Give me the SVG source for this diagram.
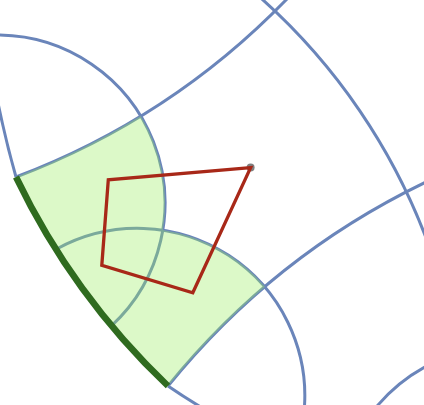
<svg xmlns="http://www.w3.org/2000/svg" width="424" height="405" viewBox="0 0 424 405">
<style>
.b{fill:none;stroke:#6a85ba;stroke-width:3}
.region{fill:#9bee62;fill-opacity:0.35;stroke:none}
.edge{fill:none;stroke:#2f6b1f;stroke-width:6.5;stroke-linecap:butt}
.poly{fill:none;stroke:#a82818;stroke-width:3.3;stroke-linejoin:miter}
.dot{fill:#7f7f7f}
</style>
<rect width="424" height="405" fill="#ffffff"/>
<g id="connectors">
<path class="b" d="M -3,35 A 168 168 0 0 1 111.2,326.2"/>
<path class="b" d="M 16,177 A 743 743 0 0 0 290.8,-5"/>
<path class="b" d="M 257.4,-5 A 613.5 613.5 0 0 1 430,248.5"/>
<path class="b" d="M 168,386 A 751.6 751.6 0 0 1 430,180.1"/>
<path class="b" d="M 56.6,249 A 167.5 167.5 0 0 1 304.2,410"/>
<path class="b" d="M 373.9,410 A 168 168 0 0 1 430,364.3"/>
<path class="b" d="M -2,103 Q 6,142 16,177"/>
<path class="b" d="M 168,386 Q 184,397 204,409"/>
</g>
<g id="region">
<path class="region" d="M 16,177 A 743 743 0 0 0 140.7,116 A 168 168 0 0 1 162.9,229.9 A 167.5 167.5 0 0 1 265,286.7 A 751.6 751.6 0 0 0 168,386 A 717 717 0 0 1 16,177 Z"/>
</g>
<g id="boundary">
<path class="edge" d="M 16,177 A 717 717 0 0 0 168,386"/>
</g>
<g id="quad">
<circle class="dot" cx="250.6" cy="167.6" r="4"/>
<polygon class="poly" points="250.6,167.6 108.3,179.8 101.8,265.4 192.8,292.8"/>
</g>
</svg>
